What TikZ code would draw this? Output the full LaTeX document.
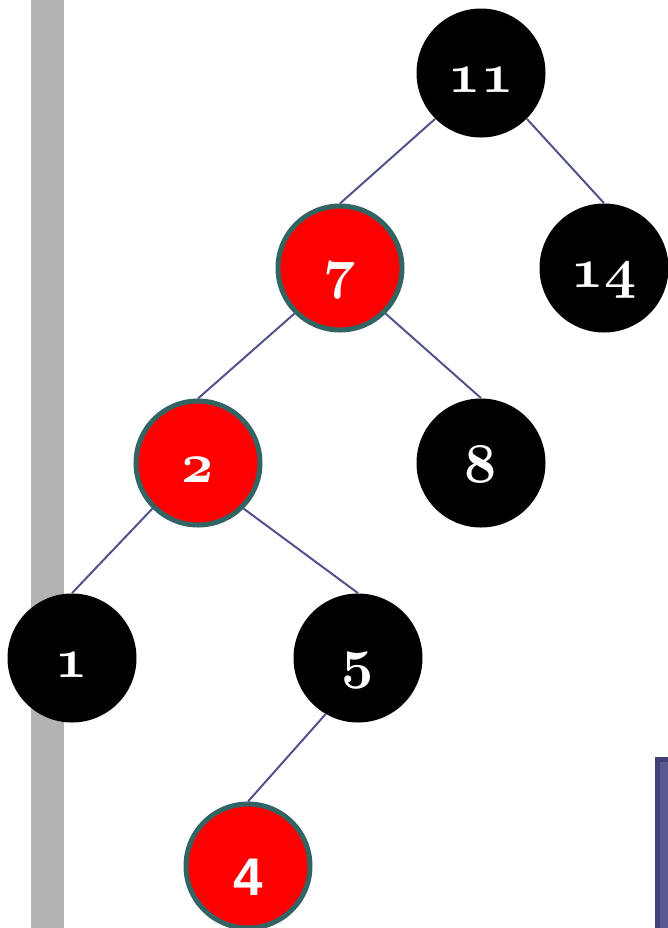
\RequirePackage{fix-cm}
\documentclass[tikz,border=0pt]{standalone}
\usepackage{fontspec}
\newfontfamily\sansdigit{Liberation Sans}
\usepackage{tikz}
\usetikzlibrary{positioning}
\definecolor{rim}{HTML}{336464}
\definecolor{edgeblue}{HTML}{52528C}
\definecolor{barg}{HTML}{B3B3B3}
\definecolor{panel}{HTML}{585892}
\definecolor{panelrim}{HTML}{404072}
\tikzset{
  blk/.style  ={circle,fill=black,minimum size=64.5pt,inner sep=0pt,
                text=white,font=\fontsize{28}{30}\selectfont,
                text height=19pt,text depth=0pt},
  rd/.style   ={circle,fill=red,draw=rim,line width=2.5pt,minimum size=62pt,
                inner sep=0pt,text=white,font=\fontsize{28}{30}\selectfont,
                text height=19pt,text depth=0pt},
  lnk/.style  ={draw=edgeblue,line width=1pt},
}
\newcommand{\osn}[1]{{\usefont{OML}{cmm}{b}{it}#1}}

\begin{document}
\begin{tikzpicture}[x=0.5pt,y=-0.5pt]
\useasboundingbox (0,0) rectangle (668,928);
\clip (0,0) rectangle (668,928);
% side bar and corner panel
\fill[barg] (31,0) rectangle (64,928);
\filldraw[fill=panel,draw=panelrim,line width=2.5pt] (657,759.5) rectangle (690,950);
% tree
\node[blk] (n11) at (481,73)  {\osn{11}};
\node[rd]  (n7)  at (340,268) {\osn{7}};
\node[blk] (n14) at (604,268) {\osn{14}};
\node[rd]  (n2)  at (198,463) {\osn{2}};
\node[blk] (n8)  at (481,463) {\osn{8}};
\node[blk] (n1)  at (72,658)  {\osn{1}};
\node[blk] (n5)  at (358,658) {\osn{5}};
\node[rd,text height=29.5pt,font=\sansdigit\bfseries\fontsize{26.5}{28}\selectfont]
           (n4)  at (248,866) {4};
\draw[lnk] (n11.225)--(n7.north); \draw[lnk] (n11.315)--(n14.north);
\draw[lnk] (n7.225)--(n2.north);  \draw[lnk] (n7.315)--(n8.north);
\draw[lnk] (n2.225)--(n1.north);  \draw[lnk] (n2.315)--(n5.north);
\draw[lnk] (n5.240)--(n4.north);
\end{tikzpicture}
\end{document}
